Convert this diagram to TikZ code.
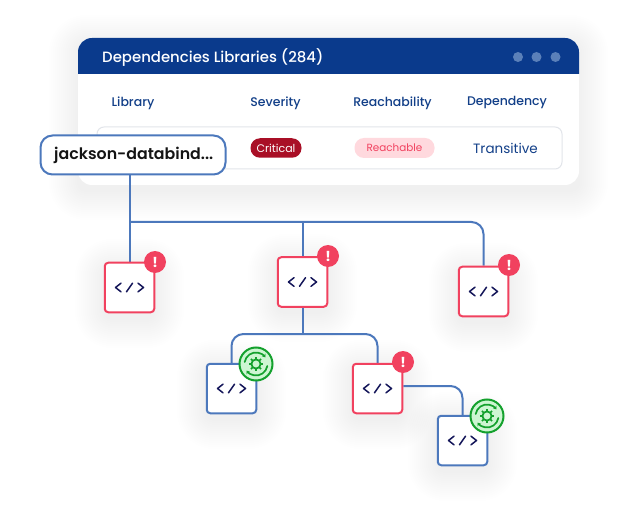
\documentclass[tikz,border=0pt]{standalone}
\usepackage{fontspec}
\setmainfont{Poppins}
\newfontfamily\medfont{Poppins Medium}
\newfontfamily\semifont{Poppins SemiBold}
\usetikzlibrary{backgrounds,arrows.meta}
\definecolor{headblue}{HTML}{0A3A8C}
\definecolor{dotblue}{HTML}{5B80B9}
\definecolor{linkblue}{HTML}{4C78BC}
\definecolor{alertred}{HTML}{F1415F}
\definecolor{navy}{HTML}{123F88}
\definecolor{iconnavy}{HTML}{15175A}
\definecolor{critred}{HTML}{A90F26}
\definecolor{reachbg}{HTML}{FFD9DE}
\definecolor{okgreen}{HTML}{14A12D}
\definecolor{okbg}{HTML}{CDF6D2}
\definecolor{rowline}{HTML}{E2E5EA}
\pgfdeclarelayer{conn}
\pgfsetlayers{background,conn,main}
\tikzset{
  x=1pt,y=-1pt,
  txt/.style={inner sep=0pt,anchor=center},
  colhead/.style={txt,text=navy,font=\medfont\fontsize{12.5}{14}\selectfont},
  libbox/.style={draw,line width=2pt,fill=white,rounded corners=3.5pt,minimum size=49.5pt,inner sep=0pt},
  redbox/.style={libbox,draw=alertred},
  bluebox/.style={libbox,draw=linkblue},
  alertbadge/.style={circle,fill=alertred,minimum size=22pt,inner sep=0pt,text=white,font=\fontsize{14}{14}\bfseries\selectfont},
  okbadge/.style={circle,fill=okbg,draw=okgreen,line width=2pt,minimum size=33pt,inner sep=0pt},
  link/.style={draw=linkblue,line width=2pt,rounded corners=12pt},
  iconline/.style={draw=iconnavy,line width=1.5pt,line cap=round,line join=round},
  okline/.style={draw=okgreen,line width=1.7pt,line cap=round}
}
\newcommand{\softshadow}[4]{%
  \foreach \s in {1,3,...,29}{%
    \pgfmathsetmacro{\rr}{8+\s}%
    \fill[black,opacity=.0022,rounded corners=\rr pt]
      (#1-\s,#2-\s+6) rectangle (#3+\s,#4+\s+6);}}
\newcommand{\codeicon}[1]{%
  \path[iconline] ([shift={(-8.5,-4.3)}]#1.center) -- ([shift={(-14,0)}]#1.center) -- ([shift={(-8.5,4.3)}]#1.center);
  \path[iconline] ([shift={(-3,4.3)}]#1.center) -- ([shift={(3,-4.3)}]#1.center);
  \path[iconline] ([shift={(8.5,-4.3)}]#1.center) -- ([shift={(14,0)}]#1.center) -- ([shift={(8.5,4.3)}]#1.center);}
\newcommand{\okicon}[1]{%
  \path[draw=okgreen,line width=1.8pt] (#1.center) circle[radius=4.6pt];
  \foreach \a in {0,45,...,315}{\path[draw=okgreen,line width=1.7pt] ([shift={(\a:4.6pt)}]#1.center) -- ([shift={(\a:7.2pt)}]#1.center);}
  \path[okline,-{Stealth[length=3.2pt,width=4.5pt]}] ([shift={(170:11.5pt)}]#1.center) arc[start angle=170,end angle=35,radius=11.5pt];
  \path[okline,-{Stealth[length=3.2pt,width=4.5pt]}] ([shift={(-10:11.5pt)}]#1.center) arc[start angle=-10,end angle=-145,radius=11.5pt];}
\begin{document}
\begin{tikzpicture}
\useasboundingbox (0,0) rectangle (624,513);
\begin{pgfonlayer}{background}
\fill[white] (0,0) rectangle (624,513);
\softshadow{78}{38}{579}{185}
\softshadow{104}{262}{155}{313}
\softshadow{277}{257}{328}{307}
\softshadow{458}{266}{509}{317}
\softshadow{206}{363}{257}{414}
\softshadow{352}{363}{403}{414}
\softshadow{437}{415}{488}{466}
\fill[white,rounded corners=14pt] (78,38) rectangle (579,185);
\fill[headblue] (78,74) [rounded corners=14pt] -- (78,38) -- (579,38) [sharp corners] -- (579,74) -- cycle;
\draw[rowline,line width=1pt,rounded corners=7pt,fill=white] (97,127) rectangle (562,169);
\end{pgfonlayer}

\node[txt,anchor=west,text=white,font=\medfont\fontsize{14.9}{16}\selectfont] (title) at (102,57) {Dependencies Libraries (284)};
\fill[dotblue] (518,57) circle[radius=5pt] (536.5,57) circle[radius=5pt] (555.5,57) circle[radius=5pt];
\node[colhead] (hlib) at (133,103) {Library};
\node[colhead] (hsev) at (275.5,103) {Severity};
\node[colhead] (hreach) at (392.5,103) {Reachability};
\node[colhead] (hdep) at (507,103) {Dependency};
\node[fill=critred,rounded corners=9.5pt,minimum width=51pt,minimum height=19.5pt,inner sep=0pt,text=white,font=\fontsize{11}{12}\selectfont] (crit) at (276,148) {Critical};
\node[fill=reachbg,rounded corners=9.5pt,minimum width=80pt,minimum height=20pt,inner sep=0pt,text=alertred,font=\fontsize{10.4}{12}\selectfont] (reach) at (394.5,148) {Reachable};
\node[txt,text=navy,font=\fontsize{13.5}{16}\selectfont] (trans) at (505.5,148.5) {Transitive};

\node[draw=linkblue,line width=2pt,fill=white,rounded corners=12pt,minimum width=185pt,minimum height=39pt,inner sep=0pt,text=black!92,font=\semifont\fontsize{15.8}{18}\selectfont] (jack) at (133,155) {\hspace{1.5pt}jackson-databind...};

\node[redbox] (a) at (129.5,287.5) {};
\node[redbox] (b) at (302.5,282) {};
\node[redbox] (c) at (483.5,291.5) {};
\node[bluebox] (d) at (231.5,388.5) {};
\node[redbox] (e) at (377.5,388.5) {};
\node[bluebox] (f) at (462.5,440.5) {};
\codeicon{a}\codeicon{b}\codeicon{c}\codeicon{d}\codeicon{e}\codeicon{f}

\node[alertbadge] (ba) at (155,262) {!};
\node[alertbadge] (bb) at (328,256) {!};
\node[alertbadge] (bc) at (509,265) {!};
\node[alertbadge] (be) at (403,362) {!};
\node[okbadge] (bd) at (256,364) {};
\node[okbadge] (bf) at (487,416) {};
\okicon{bd}\okicon{bf}

\coordinate (trunk) at (a.north |- 0,222);
\coordinate (branch) at (b.south |- 0,334);
\begin{pgfonlayer}{conn}
\path[link,rounded corners=0pt] (jack.south -| a.north) -- (a.north);
\path[link] (trunk) -- (trunk -| c.north) -- (c.north);
\path[link,rounded corners=0pt] (trunk -| b.north) -- (b.north);
\path[link,rounded corners=0pt] (b.south) -- (branch);
\path[link] (d.north) -- (d.north |- branch) -- (e.north |- branch) -- (e.north);
\path[link] (e.east |- 0,386) -- (f.north |- 0,386) -- (f.north);
\end{pgfonlayer}
\end{tikzpicture}
\end{document}
